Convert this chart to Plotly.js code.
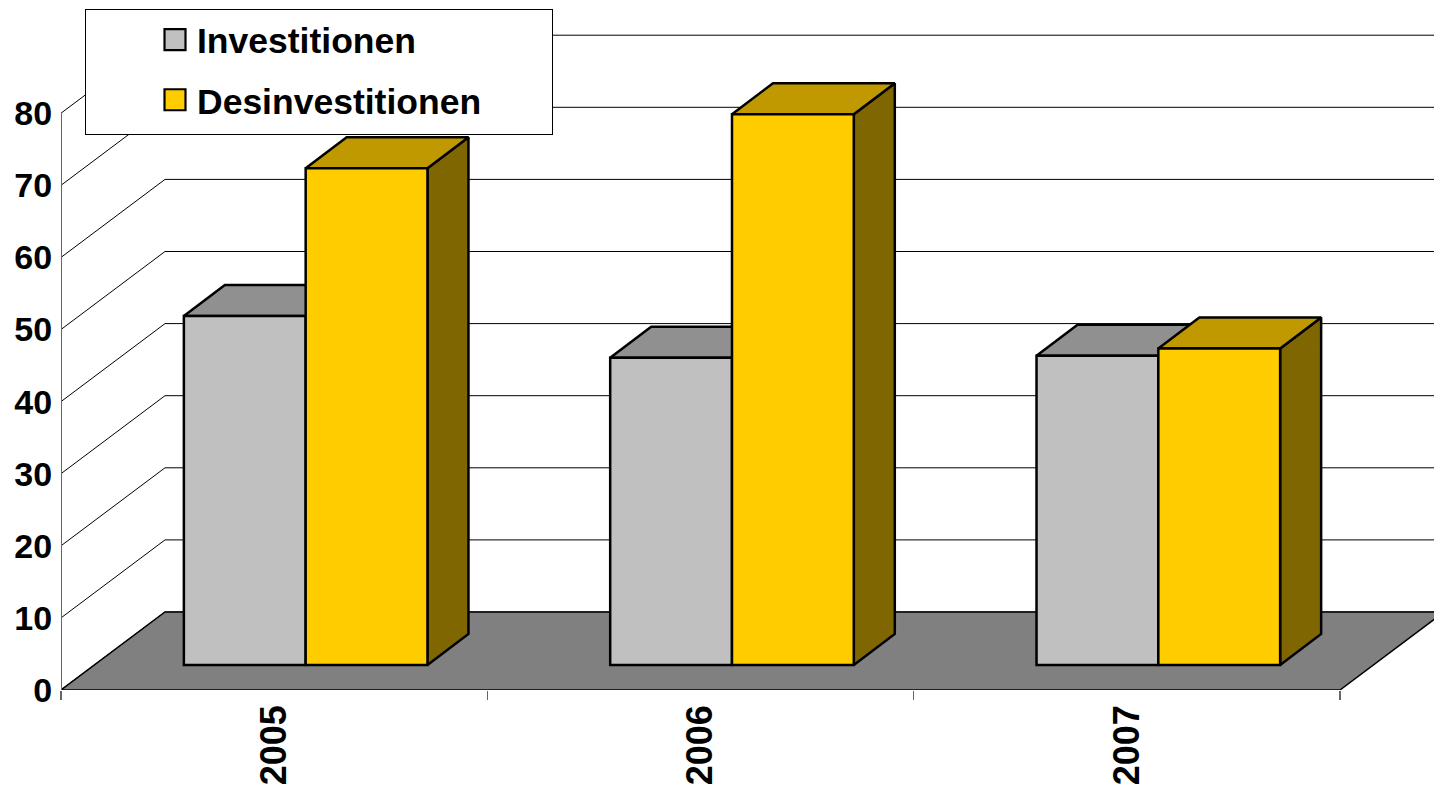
<!DOCTYPE html>
<html>
<head>
<meta charset="utf-8">
<script src="https://cdn.plot.ly/plotly-3.0.1.min.js"></script>
<style>
html,body{margin:0;padding:0;background:#fff;overflow:hidden}
.legend .legendpoints path{transform:translate(89px,0) scale(1.75);stroke-width:1.25px !important}
.legend rect.bg{height:125px;width:467px}
</style>
</head>
<body>
<div id="chart" style="width:1434px;height:788px"></div>
<script>
var years = ['2005', '2006', '2007'];
var investitionen = [48.4, 42.6, 42.9];
var desinvestitionen = [68.9, 76.4, 43.9];
var yTicks = [0, 10, 20, 30, 40, 50, 60, 70, 80];
var seriesNames = ['Investitionen', 'Desinvestitionen'];

var PXX = 426.33, PXY = 7.21;
var wallDx = 104 / PXX, wallDy = 78 / PXY;
var baseDx = 31.5 / PXX, baseDy = 25 / PXY;
var barDx = 41 / PXX, barDy = 31 / PXY;
var barW = 121.8 / PXX;
var centers = years.map(function (_, i) { return i + 0.5 + baseDx; });
var tickPos = years.map(function (_, i) { return i + 0.5; });
var bases = years.map(function () { return baseDy; });

var EDGE = {color: '#000', width: 2.5};

function poly(xs, ys, fill, z, line) {
  return {type: 'scatter', mode: 'lines', x: xs, y: ys, fill: 'toself', fillcolor: fill,
    line: line || EDGE, showlegend: false, hoverinfo: 'skip', cliponaxis: false, zorder: z};
}
function faces(vals, xLeftOff, sideColor, topColor, z) {
  var out = [];
  vals.forEach(function (v, i) {
    var l = centers[i] + xLeftOff, r = l + barW, b = baseDy, t = baseDy + v;
    out.push(poly([r, r + barDx, r + barDx, r, r], [b, b + barDy, t + barDy, t, b], sideColor, z));
    out.push(poly([l, l + barDx, r + barDx, r, l], [t, t + barDy, t + barDy, t, t], topColor, z));
  });
  return out;
}

// wall gridlines
var gx = [], gy = [];
yTicks.forEach(function (v) {
  gx.push(0, wallDx, 3 + wallDx, null);
  gy.push(v, v + wallDy, v + wallDy, null);
});

var traces = [];
traces.push({type: 'scatter', mode: 'lines', x: gx, y: gy, line: {color: '#000', width: 1},
  showlegend: false, hoverinfo: 'skip', cliponaxis: false, zorder: 0});
traces.push(poly([0, wallDx, 3 + wallDx, 3, 0], [0, wallDy, wallDy, 0, 0], '#808080', 0, {color: '#000', width: 1.5}));
traces.push({type: 'scatter', mode: 'lines', x: [0, 0], y: [0, yTicks[yTicks.length - 1]], line: {color: '#666', width: 2},
  showlegend: false, hoverinfo: 'skip', cliponaxis: false, zorder: 0});
traces = traces.concat(faces(investitionen, -barW, '#606060', '#909090', 1));
traces.push({type: 'bar', name: seriesNames[0], x: centers, y: investitionen, base: bases, width: barW, offset: -barW,
  marker: {color: '#c0c0c0', line: EDGE}, legendgroup: 'a', hoverinfo: 'skip', cliponaxis: false, zorder: 2});
traces = traces.concat(faces(desinvestitionen, 0, '#806600', '#c09900', 3));
traces.push({type: 'bar', name: seriesNames[1], x: centers, y: desinvestitionen, base: bases, width: barW, offset: 0,
  marker: {color: '#ffcc00', line: EDGE}, legendgroup: 'b', hoverinfo: 'skip', cliponaxis: false, zorder: 4});

var FONT = {family: 'Liberation Sans, Arial, sans-serif', size: 34, color: '#000', weight: 700};
var YEARFONT = {family: 'Liberation Sans, Arial, sans-serif', size: 36, color: '#000', weight: 700};
var LEGFONT = {family: 'Liberation Sans, Arial, sans-serif', size: 35.5, color: '#000', weight: 700};

var layout = {
  width: 1434, height: 788,
  margin: {l: 61, r: 0, t: 0, b: 98, pad: 0},
  paper_bgcolor: '#fff', plot_bgcolor: 'rgba(0,0,0,0)',
  barmode: 'overlay', dragmode: false,
  font: FONT,
  xaxis: {type: 'linear', range: [0, 1373 / PXX], tickmode: 'array', tickvals: tickPos, ticktext: years, tickangle: -90,
    ticks: '', showgrid: false, zeroline: false, showline: false,
    tickfont: YEARFONT, ticklabelstandoff: 7,
    minor: {tickmode: 'array', tickvals: [0, 1, 2, 3], ticks: 'outside', ticklen: 9, tickcolor: '#666', tickwidth: 1.5, showgrid: false}},
  yaxis: {range: [0, 690 / PXY], tickmode: 'array', tickvals: yTicks, ticks: 'outside', ticklen: 1, tickcolor: 'rgba(0,0,0,0)',
    showgrid: false, zeroline: false, showline: false, tickfont: FONT},
  showlegend: true,
  legend: {x: (85 - 61) / 1373, y: (690 - 9) / 690, xanchor: 'left', yanchor: 'top', xref: 'paper', yref: 'paper',
    bgcolor: '#fff', bordercolor: '#000', borderwidth: 1, font: LEGFONT, itemwidth: 101, traceorder: 'grouped',
    tracegroupgap: 11}
};

Plotly.newPlot(document.getElementById('chart'), traces, layout, {displayModeBar: false, staticPlot: true});
</script>
</body>
</html>
